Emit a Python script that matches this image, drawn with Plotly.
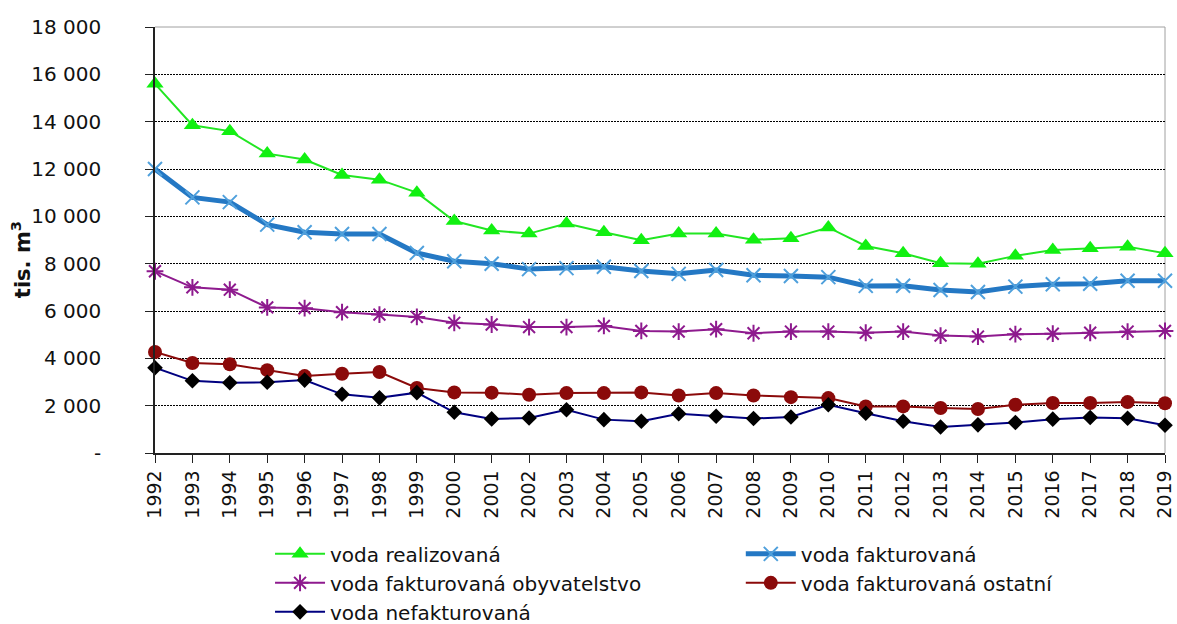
import plotly.graph_objects as go

years = [str(y) for y in range(1992, 2020)]

realizovana = [15600, 13850, 13600, 12650, 12400, 11750, 11550, 11000, 9800, 9400,
               9270, 9700, 9330, 8990, 9270, 9270, 9010, 9070, 9530, 8750,
               8440, 8020, 8000, 8330, 8580, 8650, 8720, 8440]
fakturovana = [12000, 10800, 10600, 9650, 9330, 9250, 9250, 8450, 8100, 8000,
               7770, 7810, 7870, 7690, 7570, 7730, 7510, 7480, 7430, 7060,
               7070, 6890, 6800, 7030, 7130, 7150, 7280, 7280]
obyvatelstvo = [7680, 7000, 6900, 6150, 6120, 5950, 5850, 5750, 5500, 5430,
                5320, 5320, 5370, 5160, 5130, 5230, 5060, 5130, 5130, 5080,
                5130, 4960, 4920, 5020, 5040, 5080, 5130, 5160]
ostatni = [4270, 3800, 3750, 3500, 3250, 3350, 3420, 2750, 2560, 2550,
           2460, 2530, 2530, 2560, 2430, 2530, 2430, 2360, 2320, 1970,
           1970, 1900, 1860, 2040, 2110, 2110, 2150, 2100]
nefakturovana = [3600, 3050, 2970, 2990, 3080, 2480, 2330, 2550, 1720, 1440,
                 1480, 1830, 1410, 1340, 1660, 1550, 1460, 1520, 2040, 1680,
                 1340, 1100, 1190, 1290, 1430, 1500, 1470, 1170]

y_tickvals = [0, 2000, 4000, 6000, 8000, 10000, 12000, 14000, 16000, 18000]
y_ticktext = ["-", "2 000", "4 000", "6 000", "8 000", "10 000", "12 000",
              "14 000", "16 000", "18 000"]

FONT = "DejaVu Sans"

fig = go.Figure()

fig.add_trace(go.Scatter(
    x=years, y=realizovana, name="voda realizovaná", mode="lines+markers",
    line=dict(color="#22E622", width=2),
    marker=dict(symbol="triangle-up", size=15, color="#11F011"),
    cliponaxis=False, legend="legend"))
fig.add_trace(go.Scatter(
    x=years, y=fakturovana, name="voda fakturovaná", mode="lines+markers",
    line=dict(color="#2478C4", width=5),
    marker=dict(symbol="x-thin", size=14, color="#4FA0DC",
                line=dict(color="#4FA0DC", width=2)),
    cliponaxis=False, legend="legend2"))
fig.add_trace(go.Scatter(
    x=years, y=obyvatelstvo, name="voda fakturovaná obyvatelstvo", mode="lines+markers",
    line=dict(color="#8E1A8E", width=2),
    marker=dict(symbol="asterisk", size=14, color="#8E1A8E",
                line=dict(color="#8E1A8E", width=2)),
    cliponaxis=False, legend="legend"))
fig.add_trace(go.Scatter(
    x=years, y=ostatni, name="voda fakturovaná ostatní", mode="lines+markers",
    line=dict(color="#8B0A0A", width=2),
    marker=dict(symbol="circle", size=14, color="#8B0A0A"),
    cliponaxis=False, legend="legend2"))
fig.add_trace(go.Scatter(
    x=years, y=nefakturovana, name="voda nefakturovaná", mode="lines+markers",
    line=dict(color="#000080", width=2),
    marker=dict(symbol="diamond", size=12, color="#000000"),
    cliponaxis=False, legend="legend"))

legend_common = dict(
    orientation="v", xanchor="left", yanchor="top", y=-0.191,
    font=dict(family=FONT, size=20, color="#111111"),
    itemwidth=50, bgcolor="rgba(0,0,0,0)", traceorder="normal",
    tracegroupgap=0)

fig.update_layout(
    width=1177, height=624,
    margin=dict(l=155, r=12, t=27, b=171, autoexpand=False),
    paper_bgcolor="white", plot_bgcolor="white",
    font=dict(family=FONT, color="#111111"),
    showlegend=True,
    legend=dict(x=0.1139, **legend_common),
    legend2=dict(x=0.580, **legend_common),
    xaxis=dict(
        type="category", range=[0, 27], tickangle=-90,
        ticks="outside", ticklen=8, tickcolor="#222222", tickwidth=1,
        showline=True, linecolor="#222222", linewidth=1.5,
        showgrid=False, zeroline=False,
        tickfont=dict(family=FONT, size=19, color="#111111")),
    yaxis=dict(
        range=[0, 18000], tickvals=y_tickvals, ticktext=y_ticktext,
        ticks="outside", ticklen=8, tickcolor="#222222", tickwidth=1,
        ticklabelstandoff=40,
        showline=True, linecolor="#222222", linewidth=1.5,
        showgrid=True, gridcolor="#000000", gridwidth=1, griddash="2px,1px",
        zeroline=False,
        tickfont=dict(family=FONT, size=20, color="#111111")),
    annotations=[dict(
        text="<b>tis. m<sup>3</sup></b>", xref="paper", yref="paper",
        x=-0.1327, y=0.455, xanchor="center", yanchor="middle",
        textangle=-90, showarrow=False,
        font=dict(family=FONT, size=21, color="#111111"))],
    shapes=[
        dict(type="line", xref="paper", yref="paper", x0=0, x1=1, y0=1, y1=1,
             line=dict(color="#A0A0A0", width=1), layer="between"),
        dict(type="line", xref="paper", yref="paper", x0=1, x1=1, y0=0, y1=1,
             line=dict(color="#A0A0A0", width=1), layer="between"),
    ],
)

fig.write_html(
    "out.html",
    config={"displayModeBar": False},
    post_script="document.body.style.margin='0';document.body.style.overflow='hidden';",
)
